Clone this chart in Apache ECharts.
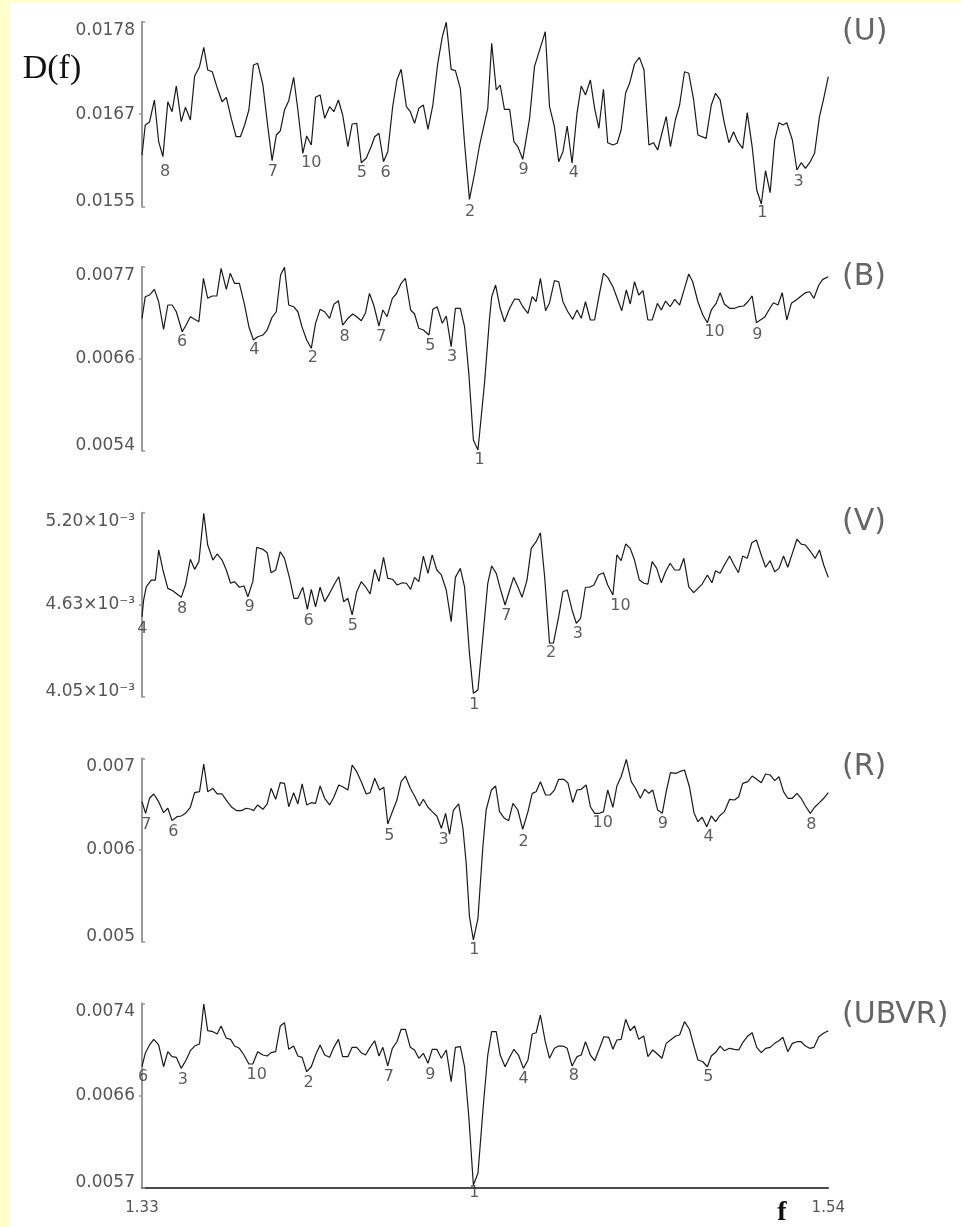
<!DOCTYPE html>
<html>
<head>
<meta charset="utf-8">
<script src="https://cdn.jsdelivr.net/npm/echarts@6/dist/echarts.min.js"></script>
<style>
  html, body { margin: 0; padding: 0; background: #FFFFCC; }
  #paper { position: absolute; left: 10px; top: 3px; width: 951px; height: 1224px; background: #ffffff; }
  #chart { position: absolute; left: 0; top: 0; width: 961px; height: 1227px; }
</style>
</head>
<body>
<div id="paper"></div>
<div id="chart"></div>
<script>
// ---- frequency range ----
const fMin = 1.33, fMax = 1.54;
const xTicks = ['1.33', '1.54'];

// ---- D(f) curves, [f, D] ----
const U = [
[1.3300,0.016143],[1.3310,0.016516],[1.3323,0.016553],[1.3338,0.016827],[1.3351,0.016308],[1.3364,0.016122],[1.3379,0.016805],[1.3392,0.016681],[1.3405,0.017001],[1.3420,0.016557],[1.3433,0.016736],[1.3448,0.016578],[1.3461,0.017125],[1.3476,0.017241],[1.3489,0.017482],[1.3501,0.017200],[1.3515,0.017178],[1.3529,0.016992],[1.3545,0.016805],[1.3558,0.016860],[1.3573,0.016599],[1.3588,0.016370],[1.3601,0.016370],[1.3614,0.016516],[1.3627,0.016702],[1.3641,0.017262],[1.3654,0.017283],[1.3670,0.017013],[1.3685,0.016495],[1.3698,0.016072],[1.3711,0.016391],[1.3723,0.016441],[1.3736,0.016702],[1.3749,0.016818],[1.3764,0.017109],[1.3777,0.016702],[1.3792,0.016164],[1.3804,0.016379],[1.3818,0.016267],[1.3831,0.016860],[1.3845,0.016889],[1.3859,0.016599],[1.3874,0.016743],[1.3887,0.016681],[1.3901,0.016827],[1.3914,0.016640],[1.3930,0.016246],[1.3943,0.016528],[1.3957,0.016537],[1.3971,0.016047],[1.3986,0.016102],[1.4001,0.016246],[1.4012,0.016370],[1.4025,0.016413],[1.4039,0.016060],[1.4052,0.016184],[1.4067,0.016743],[1.4080,0.017075],[1.4093,0.017208],[1.4109,0.016743],[1.4121,0.016681],[1.4134,0.016537],[1.4147,0.016723],[1.4161,0.016764],[1.4175,0.016462],[1.4190,0.016764],[1.4205,0.017283],[1.4219,0.017614],[1.4231,0.017793],[1.4246,0.017208],[1.4259,0.017191],[1.4274,0.016972],[1.4287,0.016288],[1.4302,0.015590],[1.4318,0.015919],[1.4333,0.016267],[1.4358,0.016723],[1.4370,0.017531],[1.4384,0.016951],[1.4396,0.017013],[1.4409,0.016711],[1.4425,0.016711],[1.4438,0.016308],[1.4450,0.016246],[1.4465,0.016089],[1.4486,0.016599],[1.4501,0.017241],[1.4534,0.017676],[1.4547,0.016743],[1.4562,0.016495],[1.4575,0.016060],[1.4588,0.016184],[1.4601,0.016503],[1.4616,0.016040],[1.4631,0.016661],[1.4644,0.017001],[1.4657,0.016889],[1.4672,0.017075],[1.4685,0.016723],[1.4698,0.016475],[1.4712,0.016960],[1.4725,0.016296],[1.4741,0.016267],[1.4754,0.016288],[1.4766,0.016454],[1.4780,0.016917],[1.4792,0.017034],[1.4807,0.017274],[1.4822,0.017357],[1.4836,0.017200],[1.4851,0.016267],[1.4865,0.016296],[1.4878,0.016205],[1.4892,0.016432],[1.4904,0.016619],[1.4917,0.016246],[1.4932,0.016578],[1.4945,0.016764],[1.4960,0.017178],[1.4973,0.017159],[1.4988,0.016827],[1.5001,0.016391],[1.5026,0.016350],[1.5042,0.016764],[1.5055,0.016910],[1.5069,0.016827],[1.5082,0.016537],[1.5096,0.016296],[1.5110,0.016432],[1.5123,0.016308],[1.5138,0.016226],[1.5152,0.016669],[1.5167,0.016246],[1.5181,0.015708],[1.5195,0.015534],[1.5208,0.015948],[1.5222,0.015674],[1.5236,0.016329],[1.5249,0.016544],[1.5261,0.016516],[1.5273,0.016544],[1.5290,0.016329],[1.5304,0.015956],[1.5317,0.016047],[1.5330,0.015977],[1.5343,0.016047],[1.5358,0.016164],[1.5373,0.016619],[1.5385,0.016827],[1.5400,0.017116]
];
const B = [
[1.3300,0.007055],[1.3310,0.007325],[1.3323,0.007346],[1.3338,0.007417],[1.3351,0.007262],[1.3366,0.006917],[1.3379,0.007221],[1.3392,0.007221],[1.3405,0.007137],[1.3423,0.006887],[1.3435,0.006971],[1.3448,0.007075],[1.3461,0.007042],[1.3474,0.007012],[1.3488,0.007555],[1.3501,0.007305],[1.3515,0.007334],[1.3529,0.007334],[1.3542,0.007680],[1.3558,0.007417],[1.3570,0.007617],[1.3583,0.007492],[1.3598,0.007492],[1.3614,0.007221],[1.3627,0.006950],[1.3641,0.006784],[1.3654,0.006825],[1.3670,0.006846],[1.3683,0.006909],[1.3698,0.007067],[1.3711,0.007137],[1.3724,0.007596],[1.3736,0.007692],[1.3749,0.007221],[1.3764,0.007200],[1.3777,0.007137],[1.3790,0.006942],[1.3804,0.006784],[1.3818,0.006680],[1.3831,0.006992],[1.3845,0.007167],[1.3859,0.007137],[1.3874,0.007055],[1.3887,0.007230],[1.3901,0.007275],[1.3914,0.006971],[1.3930,0.007055],[1.3945,0.007109],[1.3957,0.007075],[1.3971,0.007025],[1.3984,0.007125],[1.3996,0.007367],[1.4009,0.007221],[1.4025,0.006959],[1.4037,0.007159],[1.4050,0.007075],[1.4066,0.007305],[1.4078,0.007359],[1.4093,0.007492],[1.4106,0.007555],[1.4122,0.007159],[1.4134,0.007109],[1.4147,0.006930],[1.4161,0.006909],[1.4178,0.006846],[1.4190,0.007167],[1.4203,0.007200],[1.4219,0.006992],[1.4231,0.007084],[1.4246,0.006700],[1.4259,0.007180],[1.4274,0.007180],[1.4287,0.006950],[1.4300,0.006367],[1.4314,0.005534],[1.4328,0.005409],[1.4348,0.006242],[1.4363,0.007034],[1.4370,0.007325],[1.4382,0.007471],[1.4396,0.007180],[1.4409,0.007012],[1.4425,0.007180],[1.4440,0.007296],[1.4453,0.007292],[1.4465,0.007200],[1.4481,0.007117],[1.4494,0.007325],[1.4506,0.007262],[1.4519,0.007555],[1.4535,0.007150],[1.4547,0.007250],[1.4562,0.007525],[1.4575,0.007512],[1.4588,0.007262],[1.4603,0.007137],[1.4618,0.007042],[1.4631,0.007159],[1.4644,0.007055],[1.4657,0.007262],[1.4672,0.007034],[1.4685,0.007034],[1.4698,0.007325],[1.4712,0.007617],[1.4725,0.007567],[1.4741,0.007450],[1.4754,0.007305],[1.4768,0.007150],[1.4782,0.007409],[1.4794,0.007234],[1.4807,0.007512],[1.4820,0.007346],[1.4833,0.007400],[1.4848,0.007034],[1.4861,0.007034],[1.4877,0.007242],[1.4889,0.007159],[1.4902,0.007271],[1.4916,0.007200],[1.4930,0.007292],[1.4945,0.007221],[1.4960,0.007430],[1.4973,0.007609],[1.4985,0.007512],[1.5001,0.007262],[1.5016,0.007096],[1.5030,0.007000],[1.5042,0.007159],[1.5057,0.007242],[1.5069,0.007375],[1.5082,0.007234],[1.5098,0.007180],[1.5113,0.007180],[1.5126,0.007200],[1.5141,0.007209],[1.5154,0.007262],[1.5167,0.007334],[1.5180,0.007000],[1.5192,0.007034],[1.5205,0.007067],[1.5218,0.007159],[1.5232,0.007250],[1.5246,0.007221],[1.5259,0.007375],[1.5273,0.007034],[1.5287,0.007242],[1.5302,0.007284],[1.5317,0.007334],[1.5330,0.007375],[1.5343,0.007387],[1.5356,0.007305],[1.5371,0.007471],[1.5383,0.007542],[1.5400,0.007575]
];
const V = [
[1.3300,0.004550],[1.3305,0.004654],[1.3313,0.004737],[1.3328,0.004779],[1.3341,0.004779],[1.3351,0.004967],[1.3364,0.004842],[1.3379,0.004727],[1.3394,0.004712],[1.3420,0.004671],[1.3433,0.004748],[1.3448,0.004909],[1.3461,0.004846],[1.3474,0.004894],[1.3489,0.005196],[1.3501,0.004998],[1.3517,0.004904],[1.3530,0.004942],[1.3545,0.004904],[1.3558,0.004842],[1.3571,0.004759],[1.3583,0.004769],[1.3598,0.004734],[1.3612,0.004742],[1.3624,0.004675],[1.3639,0.004769],[1.3651,0.004984],[1.3670,0.004971],[1.3683,0.004950],[1.3695,0.004825],[1.3709,0.004842],[1.3723,0.004956],[1.3736,0.004915],[1.3751,0.004796],[1.3765,0.004665],[1.3777,0.004665],[1.3792,0.004734],[1.3806,0.004596],[1.3818,0.004721],[1.3831,0.004612],[1.3845,0.004734],[1.3859,0.004644],[1.3874,0.004696],[1.3889,0.004754],[1.3902,0.004800],[1.3917,0.004644],[1.3930,0.004665],[1.3943,0.004561],[1.3957,0.004706],[1.3971,0.004769],[1.3984,0.004737],[1.3998,0.004692],[1.4012,0.004846],[1.4025,0.004769],[1.4039,0.004921],[1.4052,0.004790],[1.4067,0.004784],[1.4081,0.004748],[1.4096,0.004762],[1.4109,0.004759],[1.4122,0.004721],[1.4134,0.004796],[1.4147,0.004769],[1.4161,0.004929],[1.4175,0.004821],[1.4188,0.004936],[1.4202,0.004842],[1.4216,0.004811],[1.4231,0.004717],[1.4246,0.004519],[1.4259,0.004796],[1.4274,0.004852],[1.4287,0.004737],[1.4302,0.004321],[1.4314,0.004071],[1.4328,0.004092],[1.4345,0.004467],[1.4358,0.004759],[1.4370,0.004867],[1.4384,0.004821],[1.4396,0.004727],[1.4411,0.004623],[1.4425,0.004717],[1.4437,0.004796],[1.4450,0.004737],[1.4463,0.004671],[1.4478,0.004779],[1.4491,0.004977],[1.4506,0.005019],[1.4519,0.005075],[1.4532,0.004800],[1.4547,0.004384],[1.4559,0.004387],[1.4575,0.004550],[1.4588,0.004706],[1.4601,0.004717],[1.4616,0.004592],[1.4629,0.004509],[1.4642,0.004540],[1.4657,0.004734],[1.4669,0.004734],[1.4683,0.004748],[1.4697,0.004811],[1.4712,0.004825],[1.4725,0.004748],[1.4741,0.004686],[1.4753,0.004936],[1.4766,0.004900],[1.4780,0.005004],[1.4794,0.004977],[1.4807,0.004904],[1.4822,0.004779],[1.4836,0.004759],[1.4848,0.004754],[1.4861,0.004894],[1.4875,0.004852],[1.4889,0.004762],[1.4902,0.004831],[1.4916,0.004884],[1.4930,0.004842],[1.4945,0.004842],[1.4958,0.004915],[1.4973,0.004737],[1.4988,0.004700],[1.5001,0.004727],[1.5014,0.004754],[1.5030,0.004811],[1.5044,0.004762],[1.5055,0.004837],[1.5069,0.004821],[1.5082,0.004873],[1.5098,0.004929],[1.5110,0.004879],[1.5125,0.004825],[1.5138,0.004929],[1.5152,0.004915],[1.5166,0.005012],[1.5180,0.005029],[1.5195,0.004936],[1.5208,0.004859],[1.5222,0.004900],[1.5236,0.004831],[1.5249,0.004852],[1.5263,0.004929],[1.5276,0.004859],[1.5290,0.004946],[1.5304,0.005034],[1.5317,0.005004],[1.5330,0.004998],[1.5346,0.004956],[1.5360,0.004915],[1.5373,0.004967],[1.5386,0.004873],[1.5400,0.004796]
];
const R = [
[1.3300,0.006527],[1.3311,0.006400],[1.3323,0.006564],[1.3336,0.006611],[1.3351,0.006527],[1.3366,0.006407],[1.3379,0.006455],[1.3392,0.006320],[1.3407,0.006363],[1.3420,0.006371],[1.3433,0.006400],[1.3448,0.006466],[1.3461,0.006625],[1.3476,0.006636],[1.3489,0.006938],[1.3501,0.006636],[1.3517,0.006673],[1.3530,0.006611],[1.3545,0.006611],[1.3561,0.006527],[1.3575,0.006466],[1.3590,0.006429],[1.3604,0.006429],[1.3619,0.006455],[1.3634,0.006444],[1.3641,0.006429],[1.3654,0.006491],[1.3670,0.006444],[1.3683,0.006502],[1.3695,0.006673],[1.3709,0.006553],[1.3723,0.006734],[1.3736,0.006727],[1.3749,0.006472],[1.3764,0.006625],[1.3777,0.006502],[1.3790,0.006720],[1.3804,0.006491],[1.3818,0.006516],[1.3831,0.006509],[1.3845,0.006698],[1.3859,0.006564],[1.3874,0.006491],[1.3887,0.006575],[1.3902,0.006709],[1.3914,0.006690],[1.3930,0.006654],[1.3943,0.006927],[1.3957,0.006854],[1.3971,0.006745],[1.3986,0.006611],[1.3998,0.006625],[1.4012,0.006782],[1.4027,0.006654],[1.4040,0.006684],[1.4052,0.006284],[1.4066,0.006418],[1.4080,0.006545],[1.4093,0.006745],[1.4106,0.006807],[1.4121,0.006673],[1.4134,0.006589],[1.4149,0.006480],[1.4161,0.006553],[1.4175,0.006466],[1.4188,0.006418],[1.4202,0.006371],[1.4216,0.006237],[1.4229,0.006400],[1.4241,0.006174],[1.4253,0.006436],[1.4269,0.006502],[1.4282,0.006237],[1.4292,0.005855],[1.4302,0.005273],[1.4314,0.005019],[1.4328,0.005255],[1.4343,0.006036],[1.4353,0.006436],[1.4369,0.006654],[1.4382,0.006698],[1.4394,0.006418],[1.4409,0.006346],[1.4422,0.006320],[1.4435,0.006509],[1.4450,0.006436],[1.4465,0.006226],[1.4481,0.006418],[1.4494,0.006618],[1.4506,0.006636],[1.4519,0.006745],[1.4535,0.006600],[1.4549,0.006600],[1.4562,0.006654],[1.4575,0.006771],[1.4590,0.006771],[1.4603,0.006734],[1.4618,0.006516],[1.4631,0.006654],[1.4644,0.006662],[1.4659,0.006709],[1.4672,0.006472],[1.4685,0.006400],[1.4700,0.006400],[1.4712,0.006418],[1.4725,0.006654],[1.4741,0.006466],[1.4753,0.006698],[1.4766,0.006799],[1.4782,0.006989],[1.4797,0.006745],[1.4810,0.006673],[1.4825,0.006564],[1.4838,0.006662],[1.4851,0.006618],[1.4863,0.006654],[1.4878,0.006436],[1.4892,0.006400],[1.4904,0.006636],[1.4917,0.006843],[1.4933,0.006836],[1.4945,0.006854],[1.4960,0.006872],[1.4975,0.006690],[1.4989,0.006407],[1.5001,0.006309],[1.5014,0.006357],[1.5028,0.006254],[1.5042,0.006371],[1.5055,0.006309],[1.5067,0.006371],[1.5082,0.006418],[1.5098,0.006553],[1.5113,0.006545],[1.5126,0.006581],[1.5138,0.006727],[1.5154,0.006745],[1.5167,0.006807],[1.5181,0.006771],[1.5195,0.006734],[1.5208,0.006829],[1.5222,0.006818],[1.5236,0.006756],[1.5249,0.006799],[1.5263,0.006636],[1.5276,0.006564],[1.5290,0.006564],[1.5304,0.006618],[1.5317,0.006564],[1.5330,0.006480],[1.5345,0.006400],[1.5358,0.006466],[1.5373,0.006516],[1.5386,0.006564],[1.5400,0.006625]
];
const UBVR = [
[1.3300,0.006814],[1.3310,0.006938],[1.3323,0.007015],[1.3336,0.007067],[1.3351,0.007015],[1.3366,0.006814],[1.3379,0.006953],[1.3392,0.006907],[1.3405,0.006901],[1.3420,0.006799],[1.3435,0.006876],[1.3448,0.006962],[1.3461,0.007005],[1.3476,0.007024],[1.3489,0.007394],[1.3501,0.007147],[1.3517,0.007138],[1.3530,0.007116],[1.3542,0.007190],[1.3558,0.007077],[1.3571,0.007067],[1.3583,0.007005],[1.3598,0.006984],[1.3612,0.006922],[1.3627,0.006839],[1.3639,0.006839],[1.3654,0.006953],[1.3670,0.006922],[1.3683,0.006913],[1.3695,0.006944],[1.3709,0.006953],[1.3723,0.007190],[1.3736,0.007221],[1.3749,0.006975],[1.3764,0.007005],[1.3777,0.006913],[1.3790,0.006901],[1.3804,0.006768],[1.3818,0.006814],[1.3831,0.006922],[1.3845,0.007015],[1.3859,0.006922],[1.3874,0.006901],[1.3887,0.006993],[1.3901,0.007067],[1.3914,0.006907],[1.3930,0.006907],[1.3943,0.006993],[1.3957,0.006993],[1.3971,0.006944],[1.3984,0.006922],[1.3998,0.006993],[1.4012,0.007054],[1.4025,0.006913],[1.4037,0.006993],[1.4052,0.006821],[1.4066,0.006984],[1.4080,0.007045],[1.4093,0.007160],[1.4106,0.007160],[1.4121,0.006993],[1.4134,0.006969],[1.4147,0.006892],[1.4161,0.006938],[1.4175,0.006846],[1.4188,0.006975],[1.4202,0.006975],[1.4216,0.006892],[1.4231,0.006969],[1.4246,0.006676],[1.4259,0.006993],[1.4274,0.006999],[1.4287,0.006814],[1.4300,0.006352],[1.4314,0.005721],[1.4328,0.005829],[1.4345,0.006476],[1.4358,0.006922],[1.4370,0.007138],[1.4384,0.007138],[1.4396,0.006922],[1.4411,0.006814],[1.4425,0.006901],[1.4438,0.006975],[1.4452,0.006922],[1.4467,0.006799],[1.4481,0.006876],[1.4494,0.007116],[1.4506,0.007128],[1.4519,0.007292],[1.4534,0.007045],[1.4547,0.006892],[1.4562,0.006984],[1.4575,0.007005],[1.4588,0.007005],[1.4601,0.006984],[1.4616,0.006821],[1.4631,0.006907],[1.4644,0.006922],[1.4657,0.007045],[1.4672,0.006922],[1.4685,0.006870],[1.4700,0.006984],[1.4713,0.007091],[1.4728,0.007086],[1.4741,0.006975],[1.4753,0.007061],[1.4766,0.007067],[1.4780,0.007252],[1.4794,0.007147],[1.4807,0.007190],[1.4820,0.007067],[1.4835,0.007098],[1.4848,0.006907],[1.4863,0.006969],[1.4877,0.006932],[1.4891,0.006892],[1.4904,0.007030],[1.4917,0.007061],[1.4933,0.007098],[1.4945,0.007107],[1.4960,0.007230],[1.4975,0.007160],[1.4989,0.007005],[1.5001,0.006876],[1.5016,0.006860],[1.5030,0.006814],[1.5042,0.006913],[1.5057,0.006953],[1.5069,0.007005],[1.5082,0.006962],[1.5098,0.006984],[1.5113,0.006975],[1.5126,0.006969],[1.5138,0.007036],[1.5154,0.007098],[1.5167,0.007128],[1.5181,0.006993],[1.5195,0.006944],[1.5208,0.006984],[1.5222,0.006993],[1.5236,0.007030],[1.5249,0.007054],[1.5261,0.007086],[1.5276,0.006953],[1.5290,0.007030],[1.5304,0.007045],[1.5317,0.007045],[1.5330,0.007005],[1.5343,0.006984],[1.5356,0.006993],[1.5371,0.007091],[1.5385,0.007123],[1.5400,0.007147]
];

// ---- numbered minima annotations, [f, D, label] ----
const uMarks = [[1.3371,0.015935,'8'],[1.3700,0.015935,'7'],[1.3818,0.016040,'10'],[1.3973,0.015915,'5'],[1.4045,0.015923,'6'],[1.4304,0.015438,'2'],[1.4468,0.015956,'9'],[1.4621,0.015923,'4'],[1.5198,0.015418,'1'],[1.5309,0.015811,'3']];
const bMarks = [[1.3423,0.006763,'6'],[1.3644,0.006659,'4'],[1.3823,0.006555,'2'],[1.3920,0.006825,'8'],[1.4032,0.006825,'7'],[1.4182,0.006709,'5'],[1.4249,0.006567,'3'],[1.4333,0.005284,'1'],[1.5052,0.006887,'10'],[1.5183,0.006846,'9']];
const vMarks = [[1.3301,0.004477,'4'],[1.3423,0.004602,'8'],[1.3629,0.004612,'9'],[1.3810,0.004525,'6'],[1.3945,0.004492,'5'],[1.4317,0.003998,'1'],[1.4415,0.004554,'7'],[1.4552,0.004325,'2'],[1.4634,0.004442,'3'],[1.4764,0.004617,'10']];
const rMarks = [[1.3313,0.006273,'7'],[1.3396,0.006200,'6'],[1.4057,0.006153,'5'],[1.4223,0.006109,'3'],[1.4317,0.004910,'1'],[1.4468,0.006091,'2'],[1.4710,0.006291,'10'],[1.4894,0.006284,'9'],[1.5034,0.006139,'4'],[1.5348,0.006273,'8']];
const ubvrMarks = [[1.3303,0.006722,'6'],[1.3425,0.006691,'3'],[1.3651,0.006738,'10'],[1.3810,0.006666,'2'],[1.4055,0.006722,'7'],[1.4182,0.006738,'9'],[1.4317,0.005645,'1'],[1.4468,0.006698,'4'],[1.4621,0.006728,'8'],[1.5033,0.006716,'5']];

// ---- y ranges and tick labels (min, mid, max) ----
const uRange = [0.0155, 0.0178],   uTicks = ['0.0155', '0.0167', '0.0178'];
const bRange = [0.0054, 0.0077],   bTicks = ['0.0054', '0.0066', '0.0077'];
const vRange = [0.00405, 0.0052],  vTicks = ['4.05×10⁻³', '4.63×10⁻³', '5.20×10⁻³'];
const rRange = [0.005, 0.007],     rTicks = ['0.005', '0.006', '0.007'];
const ubvrRange = [0.0057, 0.0074], ubvrTicks = ['0.0057', '0.0066', '0.0074'];

const panelNames = ['(U)', '(B)', '(V)', '(R)', '(UBVR)'];

// ---- layout ----
const panels = [
  { data: U, marks: uMarks, range: uRange, ticks: uTicks, top: 21.7, height: 185, labelY: 32 },
  { data: B, marks: bMarks, range: bRange, ticks: bTicks, top: 266.7, height: 184, labelY: 277 },
  { data: V, marks: vMarks, range: vRange, ticks: vTicks, top: 512.7, height: 184, labelY: 522 },
  { data: R, marks: rMarks, range: rRange, ticks: rTicks, top: 758.3, height: 183.4, labelY: 767 },
  { data: UBVR, marks: ubvrMarks, range: ubvrRange, ticks: ubvrTicks, top: 1003.3, height: 184, labelY: 1015 }
];

const FONT = 'DejaVu Sans';
const TICK_COLOR = '#555';
const AXIS_GRAY = '#9a9a9a';
const TICK_FS = 17;
const rich = {
  t: { padding: [17, 0, 0, 0], fontSize: TICK_FS, color: TICK_COLOR, fontFamily: FONT },
  m: { fontSize: TICK_FS, color: TICK_COLOR, fontFamily: FONT },
  b: { padding: [0, 0, 10, 0], fontSize: TICK_FS, color: TICK_COLOR, fontFamily: FONT }
};

const grid = [], xAxis = [], yAxis = [], series = [], graphic = [];

panels.forEach((p, i) => {
  const isLast = i === panels.length - 1;
  const lo = p.range[0], hi = p.range[1], mid = (lo + hi) / 2;
  const vals = [lo, mid, hi];
  grid.push({ left: 142, width: 686.3, top: p.top, height: p.height, containLabel: false });
  xAxis.push({
    type: 'value', gridIndex: i, min: fMin, max: fMax,
    show: isLast,
    axisLine: { show: isLast, onZero: false, lineStyle: { color: '#111', width: 1.5 } },
    axisTick: { show: false },
    splitLine: { show: false },
    axisLabel: {
      show: isLast, margin: 13, fontSize: 15, color: TICK_COLOR, fontFamily: FONT,
      customValues: [fMin, fMax],
      formatter: v => (Math.abs(v - fMin) < 1e-6 ? xTicks[0] : xTicks[1])
    }
  });
  // main y axis: line, end ticks (inward), labels
  yAxis.push({
    type: 'value', gridIndex: i, position: 'left', min: lo, max: hi,
    axisLine: { show: true, lineStyle: { color: AXIS_GRAY, width: 2 } },
    axisTick: { show: true, inside: true, length: 3, customValues: [lo, hi], lineStyle: { color: AXIS_GRAY, width: 1.5 } },
    splitLine: { show: false },
    axisLabel: {
      show: true, margin: 7, customValues: vals,
      fontSize: TICK_FS, color: TICK_COLOR, fontFamily: FONT,
      formatter: v => {
        let k = 0, best = Infinity;
        vals.forEach((c, j) => { const d = Math.abs(c - v); if (d < best) { best = d; k = j; } });
        const key = k === 0 ? 'b' : (k === 2 ? 't' : 'm');
        return '{' + key + '|' + p.ticks[k] + '}';
      },
      rich
    }
  });
  // helper y axis on the same (left) side: middle tick pointing outward
  yAxis.push({
    type: 'value', gridIndex: i, position: 'left', offset: 0, min: lo, max: hi,
    axisLine: { show: false },
    axisTick: { show: true, inside: false, length: 3, customValues: [mid], lineStyle: { color: AXIS_GRAY, width: 1.5 } },
    axisLabel: { show: false },
    splitLine: { show: false }
  });
  series.push({
    type: 'line', xAxisIndex: i, yAxisIndex: 2 * i,
    data: p.data, showSymbol: false, symbol: 'none', clip: false,
    lineStyle: { color: '#1a1a1a', width: 1.2 }, silent: true
  });
  series.push({
    type: 'scatter', xAxisIndex: i, yAxisIndex: 2 * i, clip: false, silent: true,
    symbolSize: 0,
    data: p.marks.map(m => ({ value: [m[0], m[1]], name: m[2] })),
    label: { show: true, position: 'inside', formatter: '{b}', fontSize: 16, color: '#333', fontFamily: FONT }
  });
  graphic.push({
    type: 'text', x: 842, y: p.labelY,
    style: { text: panelNames[i], fontSize: 30, fontFamily: FONT, fill: '#666', align: 'left', verticalAlign: 'middle' }
  });
});

graphic.push({
  type: 'text', x: 52, y: 69,
  style: { text: 'D(f)', fontSize: 34, fontFamily: 'Liberation Serif', fill: '#111', align: 'center', verticalAlign: 'middle' }
});
graphic.push({
  type: 'text', x: 782, y: 1213,
  style: { text: 'f', fontSize: 28, fontWeight: 'bold', fontFamily: 'Liberation Serif', fill: '#111', align: 'center', verticalAlign: 'middle' }
});

const chart = echarts.init(document.getElementById('chart'), null, { renderer: 'canvas' });
chart.setOption({
  animation: false,
  backgroundColor: 'transparent',
  grid, xAxis, yAxis, series, graphic
});
</script>
</body>
</html>
